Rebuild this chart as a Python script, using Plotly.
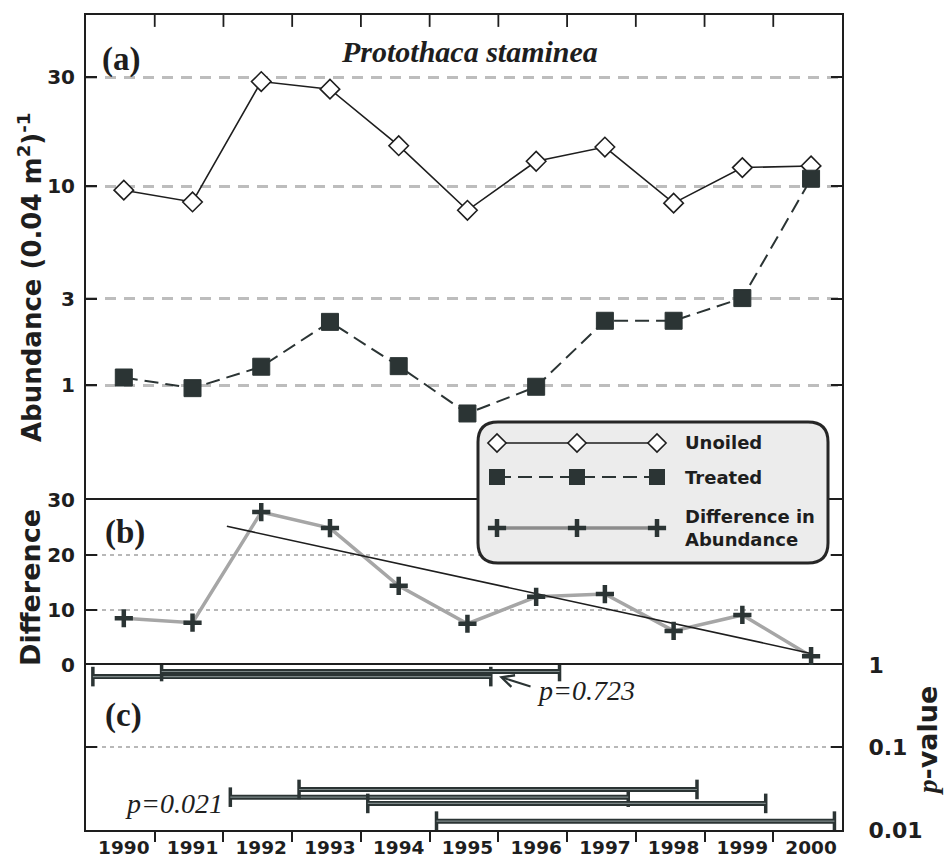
import numpy as np
import plotly.graph_objects as go

# ---------------- data ----------------
years = list(range(1990, 2001))
unoiled = [9.6, 8.5, 28.7, 26.6, 15.1, 7.8, 12.9, 14.9, 8.4, 12.1, 12.3]
treated = [1.12, 0.96, 1.30, 2.29, 1.31, 0.64, 0.98, 2.32, 2.32, 3.02, 10.8]
difference = [8.5, 7.7, 27.8, 24.9, 14.4, 7.5, 12.4, 12.9, 6.2, 9.1, 1.6]

abund_ticks = [1, 3, 10, 30]
diff_ticks = [0, 10, 20, 30]
p_ticks = [0.01, 0.1, 1]
p_tick_text = ["0.01", "0.1", "1"]
year_labels = [str(y) for y in years]

# moving 6-year windows and their p-values (panel c)
window_start = [1990, 1991, 1992, 1993, 1994, 1995]
window_end = [1995, 1996, 1997, 1998, 1999, 2000]
window_p = [0.723, 0.833, 0.025, 0.031, 0.021, 0.0128]
trend_first_year = 1992
trend_draw_from = 1991.5

# ---------------- styling ----------------
DARK = "#2b3434"
LINE = "#1e1e1e"
TXT = "#1e1e1e"
SANS = "DejaVu Sans"
SERIF = "Liberation Serif"
OFFSET = 0.5  # abundance axis is log(x + 0.5)
BAR_START = -0.45
BAR_END = 0.34

# plot area in pixels (for placing labels in paper coordinates)
PL, PR, PT, PB = 86, 842, 15, 830


def T(v):
    return np.log10(np.asarray(v, dtype=float) + OFFSET)


def px(X):
    return (X - PL) / (PR - PL)


def py(Y):
    return (PB - Y) / (PB - PT)


x_range = [1989.45, 2000.45]
a_range = [-0.3103, 1.7477]
bounds = [y + 0.45 for y in years[:-1]]

fig = go.Figure()

# ---- panel (a) ----
fig.add_trace(go.Scatter(
    x=years, y=T(unoiled), xaxis="x3", yaxis="y", mode="lines+markers",
    line=dict(color=LINE, width=1.6),
    marker=dict(symbol="diamond", size=15, color="white", line=dict(color=LINE, width=1.6)),
    name="Unoiled"))
fig.add_trace(go.Scatter(
    x=years, y=T(treated), xaxis="x3", yaxis="y", mode="lines+markers",
    line=dict(color=DARK, width=2, dash="14px,7px"),
    marker=dict(symbol="square", size=17, color=DARK, line=dict(color=DARK, width=1)),
    name="Treated"))
# inside tick marks along the top border (year boundaries), clipped to the plot area
fig.add_trace(go.Scatter(
    x=bounds, y=[a_range[1]] * len(bounds), xaxis="x3", yaxis="y", mode="markers",
    cliponaxis=True, hoverinfo="skip",
    marker=dict(symbol="line-ns", size=17, line=dict(color=LINE, width=1.8)),
    name="top ticks"))

# ---- panel (b) ----
fig.add_trace(go.Scatter(
    x=years, y=difference, xaxis="x2", yaxis="y2", mode="lines",
    line=dict(color="#a6a6a6", width=3.5), name="Difference"))
yrs = np.array(years)
dif = np.array(difference)
sel = yrs >= trend_first_year
coef = np.polyfit(yrs[sel], dif[sel], 1)
tx = np.array([trend_draw_from, years[-1]])
fig.add_trace(go.Scatter(
    x=tx, y=np.polyval(coef, tx), xaxis="x2", yaxis="y2", mode="lines",
    line=dict(color=LINE, width=1.6), name="trend"))
fig.add_trace(go.Scatter(
    x=years, y=difference, xaxis="x2", yaxis="y2", mode="markers",
    marker=dict(symbol="cross-thin", size=13, line=dict(color=DARK, width=4.5)),
    name="Difference markers"))

# ---- panel (c) ----
for s, e, p in zip(window_start, window_end, window_p):
    xs = [s + BAR_START, e + BAR_END]
    fig.add_trace(go.Scatter(
        x=xs, y=[p, p], xaxis="x", yaxis="y3",
        mode="lines+markers", line=dict(color=DARK, width=5),
        marker=dict(symbol="line-ns", size=14, line=dict(color=DARK, width=3.5)),
        name=f"{s}-{e}"))
    fig.add_trace(go.Scatter(
        x=xs, y=[p, p], xaxis="x", yaxis="y3", mode="lines",
        line=dict(color="#7d8888", width=1.1), name=f"{s}-{e} inner"))

# ---- legend glyphs (helper axes in pixel units) ----
leg_x = [497, 577, 657]
fig.add_trace(go.Scatter(
    x=leg_x, y=[443] * 3, xaxis="x4", yaxis="y4", mode="lines+markers",
    line=dict(color=LINE, width=1.6),
    marker=dict(symbol="diamond", size=14, color="white", line=dict(color=LINE, width=1.6))))
fig.add_trace(go.Scatter(
    x=leg_x, y=[477] * 3, xaxis="x4", yaxis="y4", mode="lines+markers",
    line=dict(color=DARK, width=2, dash="14px,7px"),
    marker=dict(symbol="square", size=16, color=DARK)))
fig.add_trace(go.Scatter(
    x=leg_x, y=[528] * 3, xaxis="x4", yaxis="y4", mode="lines+markers",
    line=dict(color="#8c8c8c", width=3.5),
    marker=dict(symbol="cross-thin", size=13, line=dict(color=DARK, width=4.5))))

# rounded legend box
x0, x1, y0, y1, r = 478, 828, 422, 563, 20
path = (f"M{x0+r},{y0} L{x1-r},{y0} Q{x1},{y0} {x1},{y0+r} L{x1},{y1-r} Q{x1},{y1} {x1-r},{y1} "
        f"L{x0+r},{y1} Q{x0},{y1} {x0},{y1-r} L{x0},{y0+r} Q{x0},{y0} {x0+r},{y0} Z")
fig.add_shape(type="path", path=path, xref="x4", yref="y4", layer="below",
              fillcolor="#ececec", line=dict(color="#262626", width=3))

ann = []


def txt(x, y, text, size, family=SANS, bold=True, italic=False, xanchor="center", angle=0, align="center"):
    ann.append(dict(x=px(x), y=py(y), xref="paper", yref="paper", text=text, showarrow=False,
                    xanchor=xanchor, yanchor="middle", textangle=angle, align=align,
                    font=dict(family=family, size=size, color=TXT,
                              weight="bold" if bold else "normal",
                              style="italic" if italic else "normal")))


txt(121, 59, "(a)", 33, SERIF)
txt(125, 532, "(b)", 33, SERIF)
txt(123, 715, "(c)", 33, SERIF)
txt(469, 52, "Protothaca staminea", 30, SERIF, italic=True)
txt(30, 278, "Abundance (0.04 m<sup>2</sup>)<sup>-1</sup>", 26, angle=-90)
txt(30, 588, "Difference", 27, angle=-90)
txt(927, 740, "<span style='font-family:Liberation Serif;font-style:italic'>p</span>-value", 27, angle=-90)
txt(683, 442, "Unoiled", 18, xanchor="left")
txt(683, 477, "Treated", 18, xanchor="left")
txt(683, 528, "Difference in<br>Abundance", 18, xanchor="left", align="left")

# p-value callouts
tip_x = window_end[0] + BAR_END + 0.12
ann.append(dict(x=tip_x, y=np.log10(window_p[0]), xref="x", yref="y3", text=" ",
                showarrow=True, ax=35, ay=11, arrowhead=5, arrowsize=1.2, arrowwidth=2,
                arrowcolor=DARK))
ann.append(dict(x=tip_x, y=np.log10(window_p[0]), xref="x", yref="y3",
                text=f"p={window_p[0]:.3f}", showarrow=False, xanchor="left", yanchor="middle",
                xshift=36, yshift=-14,
                font=dict(family=SERIF, size=28, color=TXT, style="italic")))
ann.append(dict(x=window_start[2] + BAR_START, y=np.log10(window_p[4]), xref="x", yref="y3",
                text=f"p={window_p[4]:.3f}", showarrow=False, xanchor="right", yanchor="middle",
                xshift=-5, yshift=0,
                font=dict(family=SERIF, size=28, color=TXT, style="italic")))

tickfont_l = dict(family=SANS, size=20, color=TXT, weight="bold")
common_y = dict(showline=True, linecolor=LINE, linewidth=2, ticks="inside", ticklen=11,
                tickwidth=1.5, tickcolor=LINE, mirror="allticks", zeroline=False,
                tickmode="array", automargin=False)

fig.update_layout(
    template="none",
    width=947, height=858, margin=dict(l=PL, r=947 - PR, t=PT, b=858 - PB, pad=0),
    plot_bgcolor="rgba(0,0,0,0)", paper_bgcolor="white", showlegend=False,
    font=dict(family=SANS, color=TXT),
    annotations=ann,
    # bottom axis (panel c): labels at years, ticks at year boundaries; mirror = b/c border
    xaxis=dict(domain=[0, 1], anchor="y3", range=x_range, showline=True, linecolor=LINE,
               linewidth=2, mirror=True, tickmode="array", tickvals=years, ticktext=year_labels,
               ticks="", tickfont=dict(family=SANS, size=18.5, color=TXT, weight="bold"),
               minor=dict(tickmode="array", tickvals=bounds, ticks="outside", ticklen=10,
                          tickwidth=1.5, tickcolor=LINE, showgrid=False),
               showgrid=False, zeroline=False, automargin=False),
    # panel b: its top line is the a/b border (kept under the legend box)
    xaxis2=dict(domain=[0, 1], range=x_range, anchor="y2", side="top", showline=True,
                linecolor=LINE, linewidth=2, mirror=False, showticklabels=False, ticks="",
                showgrid=False, zeroline=False, automargin=False, layer="below traces"),
    # panel a: top border
    xaxis3=dict(domain=[0, 1], range=x_range, anchor="y", side="top", showline=True,
                linecolor=LINE, linewidth=2, mirror=False, showticklabels=False,
                ticks="", showgrid=False, zeroline=False, automargin=False),
    yaxis=dict(domain=[0.4049, 1], anchor="x3", range=a_range,
               tickvals=T(abund_ticks), ticktext=[str(v) for v in abund_ticks],
               showgrid=True, gridcolor="#bdbdbd", gridwidth=2.5, griddash="11px,8px",
               tickfont=tickfont_l, ticklabelstandoff=5, **common_y),
    yaxis2=dict(domain=[0.2025, 0.4049], anchor="x2", range=[0, 30],
                tickvals=diff_ticks, ticktext=[str(v) for v in diff_ticks],
                showgrid=True, gridcolor="#b8b8b8", gridwidth=1.5, griddash="4px,4px",
                tickfont=tickfont_l, ticklabelstandoff=5, **common_y),
    yaxis3=dict(domain=[0, 0.2025], anchor="x", type="log", range=[-2, 0], side="right",
                tickvals=p_ticks, ticktext=p_tick_text,
                showgrid=True, gridcolor="#b8b8b8", gridwidth=1.5, griddash="4px,4px",
                tickfont=dict(family=SANS, size=22, color=TXT, weight="bold"),
                ticklabelstandoff=20, **common_y),
    xaxis4=dict(domain=[0, 1], anchor="y4", range=[PL, PR], visible=False, fixedrange=True,
                automargin=False),
    yaxis4=dict(domain=[0, 1], anchor="x4", range=[PB, PT], visible=False, fixedrange=True,
                automargin=False),
)

fig.write_html("out.html", config={"displayModeBar": False},
               post_script="document.body.style.margin='0';")
